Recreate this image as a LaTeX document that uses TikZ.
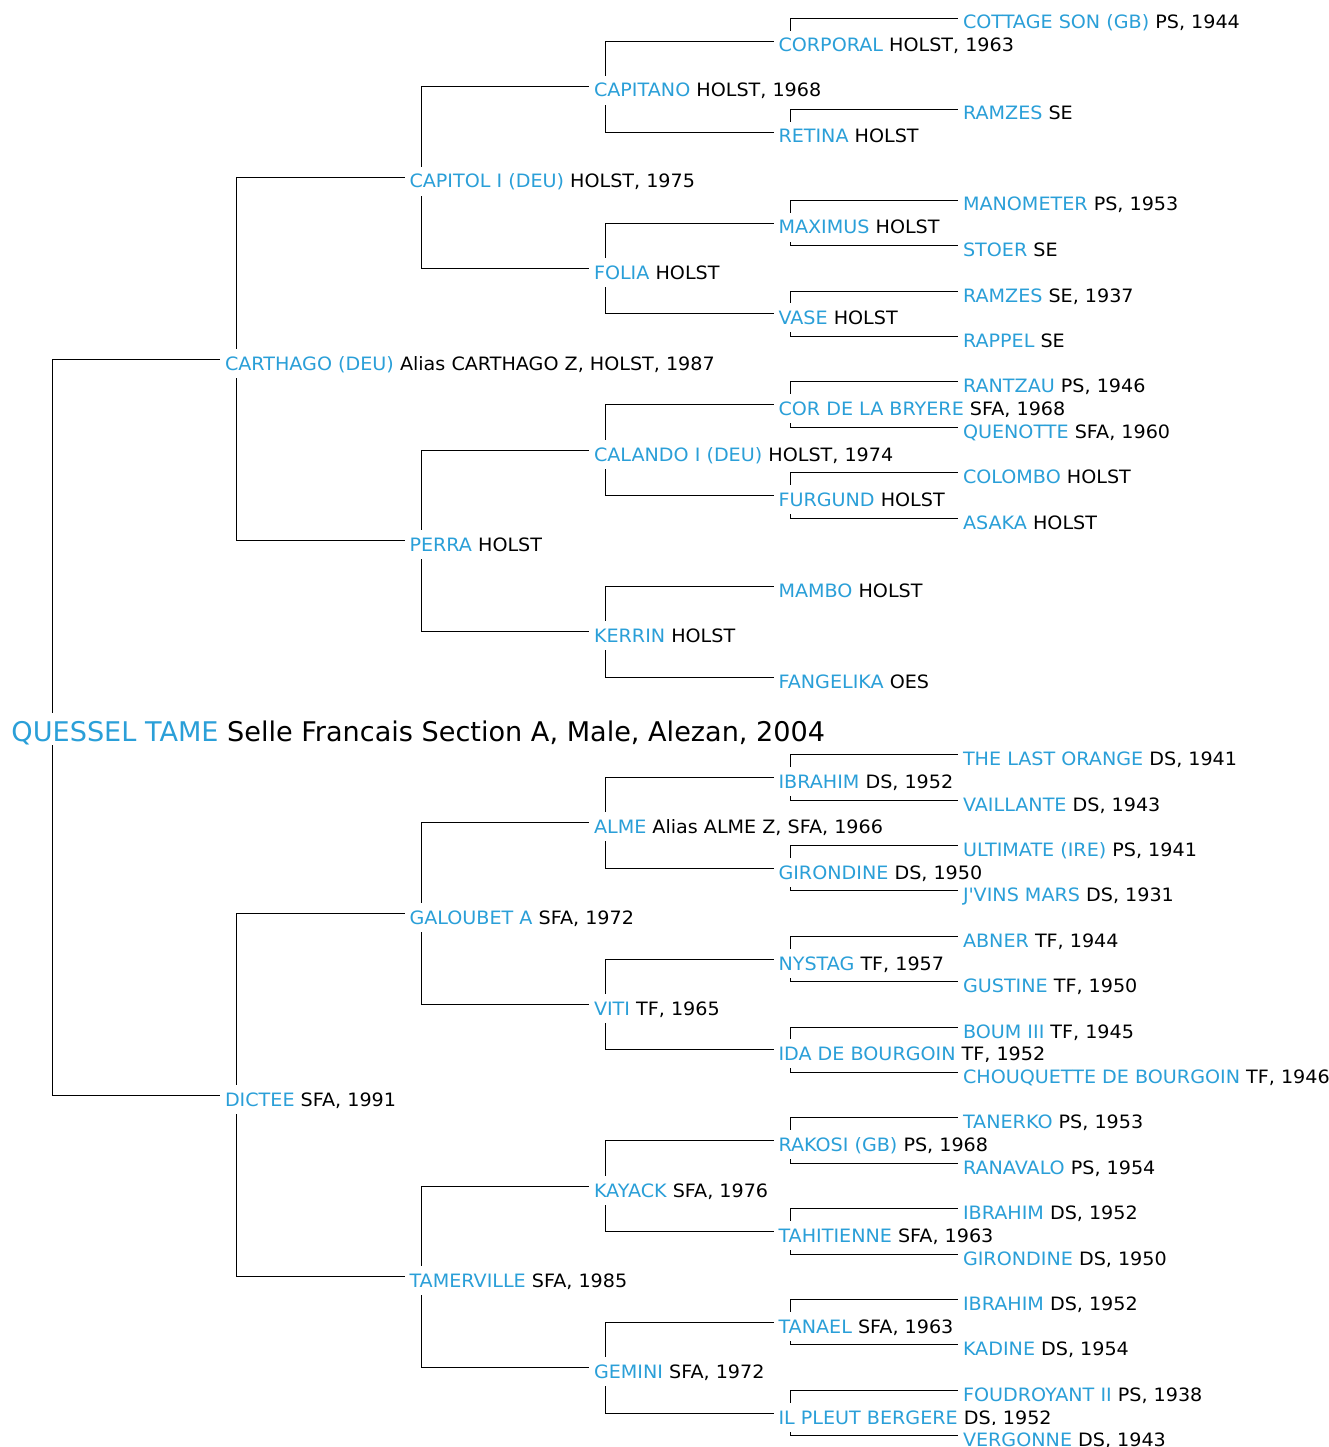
\documentclass[tikz,border=0pt]{standalone}
\usepackage{fontspec}
\setmainfont[FakeStretch=1.04]{DejaVu Sans}
\newfontfamily\rootfont{DejaVu Sans}
\usetikzlibrary{backgrounds}

\definecolor{horseblue}{HTML}{2A9FD8}
\newcommand{\nm}[1]{\textcolor{horseblue}{#1}}
% parent's vertical bar, then across to the child
\newcommand{\link}[2]{\draw ([xshift=16.5pt,yshift=11pt]#1.base west) |- ([yshift=11pt]#2.base west);}

\tikzset{
  horse/.style={anchor=base west, fill=white, inner xsep=4pt, inner ysep=3pt,
    text height=17.7pt, text depth=5pt, font=\fontsize{18.4}{22}\selectfont},
  foal/.style={horse, text height=25pt, text depth=1pt, font=\rootfont\fontsize{27.1}{32}\selectfont}
}

\begin{document}
\begin{tikzpicture}[x=1pt, y=-1pt, line width=2pt]
  \useasboundingbox (0,0) rectangle (1329,1447);

  \node[foal] (tame) at (6.5,741) {\nm{QUESSEL TAME} Selle Francais Section A, Male, Alezan, 2004};

  \node[horse] (carthago) at (220,370) {\nm{CARTHAGO (DEU)} Alias CARTHAGO Z, HOLST, 1987};
  \node[horse] (dictee) at (220,1106) {\nm{DICTEE} SFA, 1991};

  \node[horse] (capitol) at (404.5,188) {\nm{CAPITOL I (DEU)} HOLST, 1975};
  \node[horse] (perra) at (404.5,551) {\nm{PERRA} HOLST};
  \node[horse] (galoubet) at (404.5,924) {\nm{GALOUBET A} SFA, 1972};
  \node[horse] (tamerville) at (404.5,1287) {\nm{TAMERVILLE} SFA, 1985};

  \node[horse] (capitano) at (589,97) {\nm{CAPITANO} HOLST, 1968};
  \node[horse] (folia) at (589,279) {\nm{FOLIA} HOLST};
  \node[horse] (calando) at (589,461) {\nm{CALANDO I (DEU)} HOLST, 1974};
  \node[horse] (kerrin) at (589,642) {\nm{KERRIN} HOLST};
  \node[horse] (alme) at (589,833) {\nm{ALME} Alias ALME Z, SFA, 1966};
  \node[horse] (viti) at (589,1015) {\nm{VITI} TF, 1965};
  \node[horse] (kayack) at (589,1197) {\nm{KAYACK} SFA, 1976};
  \node[horse] (gemini) at (589,1378) {\nm{GEMINI} SFA, 1972};

  \node[horse] (corporal) at (773.5,52) {\nm{CORPORAL} HOLST, 1963};
  \node[horse] (retina) at (773.5,143) {\nm{RETINA} HOLST};
  \node[horse] (maximus) at (773.5,234) {\nm{MAXIMUS} HOLST};
  \node[horse] (vase) at (773.5,324) {\nm{VASE} HOLST};
  \node[horse] (bryere) at (773.5,415) {\nm{COR DE LA BRYERE} SFA, 1968};
  \node[horse] (furgund) at (773.5,506) {\nm{FURGUND} HOLST};
  \node[horse] (mambo) at (773.5,597) {\nm{MAMBO} HOLST};
  \node[horse] (fangelika) at (773.5,688) {\nm{FANGELIKA} OES};
  \node[horse] (ibrahim) at (773.5,788) {\nm{IBRAHIM} DS, 1952};
  \node[horse] (girondine) at (773.5,879) {\nm{GIRONDINE} DS, 1950};
  \node[horse] (nystag) at (773.5,970) {\nm{NYSTAG} TF, 1957};
  \node[horse] (ida) at (773.5,1060) {\nm{IDA DE BOURGOIN} TF, 1952};
  \node[horse] (rakosi) at (773.5,1151) {\nm{RAKOSI (GB)} PS, 1968};
  \node[horse] (tahitienne) at (773.5,1242) {\nm{TAHITIENNE} SFA, 1963};
  \node[horse] (tanael) at (773.5,1333) {\nm{TANAEL} SFA, 1963};
  \node[horse] (bergere) at (773.5,1424) {\nm{IL PLEUT BERGERE} DS, 1952};

  \node[horse] (cottage) at (958,29) {\nm{COTTAGE SON (GB)} PS, 1944};
  \node[horse] (ramzesA) at (958,120) {\nm{RAMZES} SE};
  \node[horse] (manometer) at (958,211) {\nm{MANOMETER} PS, 1953};
  \node[horse] (stoer) at (958,256) {\nm{STOER} SE};
  \node[horse] (ramzesB) at (958,302) {\nm{RAMZES} SE, 1937};
  \node[horse] (rappel) at (958,347) {\nm{RAPPEL} SE};
  \node[horse] (rantzau) at (958,392.5) {\nm{RANTZAU} PS, 1946};
  \node[horse] (quenotte) at (958,438) {\nm{QUENOTTE} SFA, 1960};
  \node[horse] (colombo) at (958,483) {\nm{COLOMBO} HOLST};
  \node[horse] (asaka) at (958,529) {\nm{ASAKA} HOLST};
  \node[horse] (lastorange) at (958,765) {\nm{THE LAST ORANGE} DS, 1941};
  \node[horse] (vaillante) at (958,811) {\nm{VAILLANTE} DS, 1943};
  \node[horse] (ultimate) at (958,856) {\nm{ULTIMATE (IRE)} PS, 1941};
  \node[horse] (jvins) at (958,901.5) {\nm{J\textquotesingle VINS MARS} DS, 1931};
  \node[horse] (abner) at (958,947) {\nm{ABNER} TF, 1944};
  \node[horse] (gustine) at (958,992) {\nm{GUSTINE} TF, 1950};
  \node[horse] (boum) at (958,1038) {\nm{BOUM III} TF, 1945};
  \node[horse] (chouquette) at (958,1083) {\nm{CHOUQUETTE DE BOURGOIN} TF, 1946};
  \node[horse] (tanerko) at (958,1128.5) {\nm{TANERKO} PS, 1953};
  \node[horse] (ranavalo) at (958,1174) {\nm{RANAVALO} PS, 1954};
  \node[horse] (ibrahimB) at (958,1219) {\nm{IBRAHIM} DS, 1952};
  \node[horse] (girondineB) at (958,1265) {\nm{GIRONDINE} DS, 1950};
  \node[horse] (ibrahimC) at (958,1310) {\nm{IBRAHIM} DS, 1952};
  \node[horse] (kadine) at (958,1355.5) {\nm{KADINE} DS, 1954};
  \node[horse] (foudroyant) at (958,1401) {\nm{FOUDROYANT II} PS, 1938};
  \node[horse] (vergonne) at (958,1446) {\nm{VERGONNE} DS, 1943};

  \begin{pgfonlayer}{background}
    \fill[white] (0,0) rectangle (1329,1447);

    \draw ([xshift=45.5pt]tame.base west) |- ([yshift=11pt]carthago.base west);
    \draw ([xshift=45.5pt]tame.base west) |- ([yshift=11pt]dictee.base west);

    \link{carthago}{capitol} \link{carthago}{perra}
    \link{dictee}{galoubet} \link{dictee}{tamerville}

    \link{capitol}{capitano} \link{capitol}{folia}
    \link{perra}{calando} \link{perra}{kerrin}
    \link{galoubet}{alme} \link{galoubet}{viti}
    \link{tamerville}{kayack} \link{tamerville}{gemini}

    \link{capitano}{corporal} \link{capitano}{retina}
    \link{folia}{maximus} \link{folia}{vase}
    \link{calando}{bryere} \link{calando}{furgund}
    \link{kerrin}{mambo} \link{kerrin}{fangelika}
    \link{alme}{ibrahim} \link{alme}{girondine}
    \link{viti}{nystag} \link{viti}{ida}
    \link{kayack}{rakosi} \link{kayack}{tahitienne}
    \link{gemini}{tanael} \link{gemini}{bergere}

    \link{corporal}{cottage}
    \link{retina}{ramzesA}
    \link{maximus}{manometer} \link{maximus}{stoer}
    \link{vase}{ramzesB} \link{vase}{rappel}
    \link{bryere}{rantzau} \link{bryere}{quenotte}
    \link{furgund}{colombo} \link{furgund}{asaka}
    \link{ibrahim}{lastorange} \link{ibrahim}{vaillante}
    \link{girondine}{ultimate} \link{girondine}{jvins}
    \link{nystag}{abner} \link{nystag}{gustine}
    \link{ida}{boum} \link{ida}{chouquette}
    \link{rakosi}{tanerko} \link{rakosi}{ranavalo}
    \link{tahitienne}{ibrahimB} \link{tahitienne}{girondineB}
    \link{tanael}{ibrahimC} \link{tanael}{kadine}
    \link{bergere}{foudroyant} \link{bergere}{vergonne}
  \end{pgfonlayer}
\end{tikzpicture}
\end{document}
